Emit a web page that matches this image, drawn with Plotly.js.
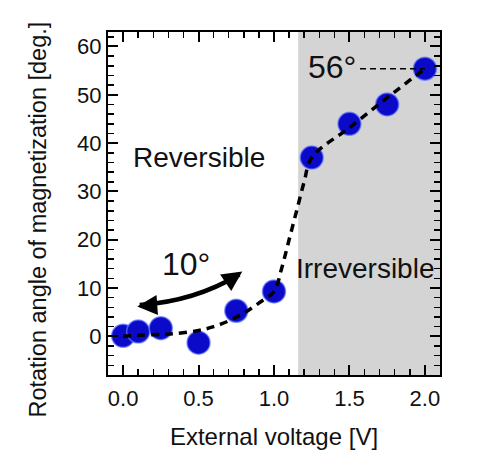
<!DOCTYPE html>
<html><head><meta charset="utf-8">
<script src="https://cdn.plot.ly/plotly-3.0.1.min.js"></script>
<style>html,body{margin:0;padding:0;background:#fff}#chart{width:480px;height:476px}</style>
</head><body><div id="chart"></div>
<script>
// measured points
const voltage = [0, 0.1, 0.25, 0.5, 0.75, 1.0, 1.25, 1.5, 1.75, 2.0];
const angle   = [0.1, 1.0, 1.7, -1.3, 5.3, 9.3, 37.0, 44.0, 48.0, 55.4];
// dashed guide curve
const guideV = [0, 0.1, 0.25, 0.35, 0.5, 0.6, 0.7, 0.8, 0.9, 1.0, 1.05, 1.1, 1.15, 1.2, 1.25, 1.5, 1.75, 2.0];
const guideA = [0, 0.2, 0.4, 0.6, 1.2, 2.0, 3.2, 4.8, 6.9, 9.3, 14, 20, 26, 32, 37, 43.2, 49.4, 55.4];
// irreversible region start
const irrevStart = 1.16;
const xTickVals = [0, 0.5, 1.0, 1.5, 2.0];
const xTickText = ['0.0', '0.5', '1.0', '1.5', '2.0'];
const yTickVals = [0, 10, 20, 30, 40, 50, 60];
const xTitle = 'External voltage [V]';
const yTitle = 'Rotation angle of magnetization [deg.]';

const font = 'Liberation Sans, Arial, sans-serif';

const traces = [
  {x: voltage, y: angle, type: 'scatter', mode: 'markers',
   marker: {size: 23, color: '#0a0ac8', line: {color: 'rgba(100,120,255,0.7)', width: 1.5}},
   hoverinfo: 'skip', showlegend: false},
  {x: guideV, y: guideA, type: 'scatter', mode: 'lines', line: {shape: 'spline', color: '#000', width: 3.5, dash: '8px,6px'},
   hoverinfo: 'skip', showlegend: false}
];

const axisCommon = {
  showline: true, linecolor: '#000', linewidth: 2, mirror: 'allticks',
  ticks: 'inside', ticklen: 10, tickwidth: 2, tickcolor: '#000',
  showgrid: false, zeroline: false,
  tickfont: {family: font, size: 22, color: '#111'}
};

const layout = {
  width: 480, height: 476,
  margin: {l: 108, r: 40, t: 32, b: 101},
  paper_bgcolor: '#fff', plot_bgcolor: '#fff',
  xaxis: Object.assign({}, axisCommon, {
    range: [-0.1, 2.1], tickvals: xTickVals, ticktext: xTickText, ticklabelstandoff: 3,
    minor: {dtick: 0.1, tick0: 0, ticks: 'inside', ticklen: 6, tickwidth: 1.5, tickcolor: '#000'},
    title: {text: xTitle, font: {family: font, size: 24, color: '#111'}, standoff: 18}
  }),
  yaxis: Object.assign({}, axisCommon, {
    range: [-8, 63], tickvals: yTickVals,
    minor: {dtick: 2, tick0: 0, ticks: 'inside', ticklen: 6, tickwidth: 1.5, tickcolor: '#000'}
  }),
  shapes: [
    {type: 'rect', xref: 'x', yref: 'paper', x0: irrevStart, x1: 2.1, y0: 0, y1: 1,
     fillcolor: '#d4d4d4', line: {width: 0}, layer: 'below'},
    {type: 'line', xref: 'x', yref: 'y', x0: 1.57, x1: 2.0, y0: 55.4, y1: 55.4,
     line: {color: '#000', width: 1.5, dash: '6px,4px'}},
    {type: 'path', xref: 'x', yref: 'y', path: 'M 0.11,6.5 Q 0.471,7.2 0.77,12.8',
     line: {color: '#000', width: 4.5}}
  ],
  annotations: [
    {x: -0.211, y: 0.453, xref: 'paper', yref: 'paper', text: yTitle, textangle: -90, showarrow: false,
     xanchor: 'center', yanchor: 'middle', font: {family: font, size: 23.5, color: '#111'}},
    {x: 0.094, y: 6.2, xref: 'x', yref: 'y', ax: 14, ay: -1, text: '', showarrow: true,
     arrowhead: 2, arrowsize: 1, arrowwidth: 4, arrowcolor: '#000'},
    {x: 0.79, y: 13.4, xref: 'x', yref: 'y', ax: -12, ay: 8, text: '', showarrow: true,
     arrowhead: 2, arrowsize: 1, arrowwidth: 4, arrowcolor: '#000'},
    {x: 1.385, y: 55.8, xref: 'x', yref: 'y', text: '56°', showarrow: false,
     font: {family: font, size: 32, color: '#111'}},
    {x: 0.42, y: 15, xref: 'x', yref: 'y', text: '10°', showarrow: false,
     font: {family: font, size: 32, color: '#111'}},
    {x: 0.505, y: 37, xref: 'x', yref: 'y', text: 'Reversible', showarrow: false,
     font: {family: font, size: 28, color: '#111'}},
    {x: 1.605, y: 14, xref: 'x', yref: 'y', text: 'Irreversible', showarrow: false,
     font: {family: font, size: 28, color: '#111'}}
  ]
};

Plotly.newPlot('chart', traces, layout, {displayModeBar: false, staticPlot: true});
</script>
</body></html>
